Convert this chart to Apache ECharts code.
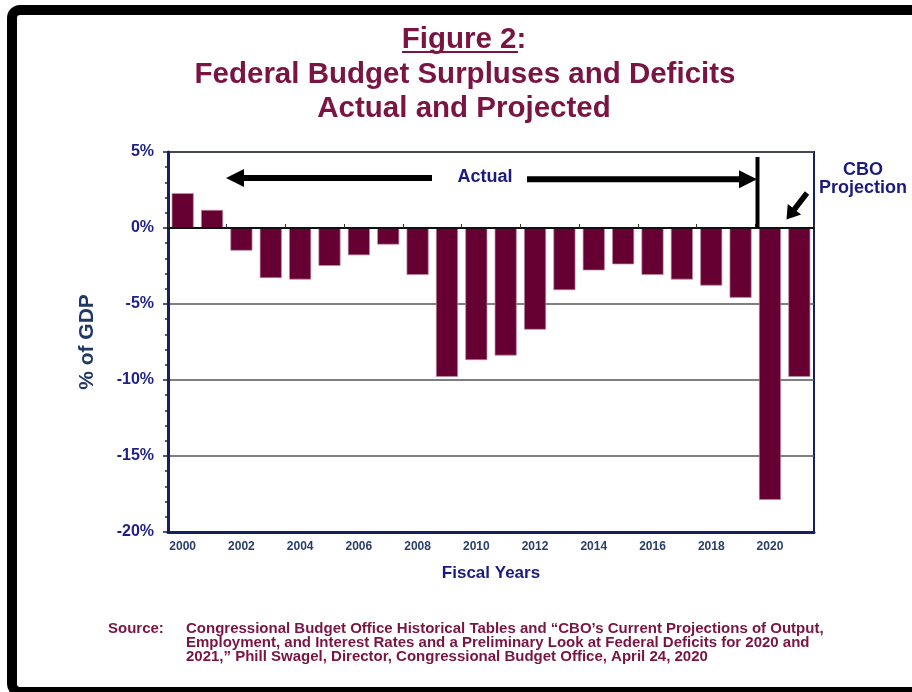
<!DOCTYPE html>
<html>
<head>
<meta charset="utf-8">
<script src="https://cdn.jsdelivr.net/npm/echarts@6/dist/echarts.min.js"></script>
<style>
  html, body { margin: 0; padding: 0; background: #fff; }
  #main { width: 912px; height: 692px; }
</style>
</head>
<body>
<div id="main"></div>
<script>
// Fiscal years shown on the category axis
const years = ['2000', '2001', '2002', '2003', '2004', '2005', '2006', '2007', '2008', '2009', '2010',
               '2011', '2012', '2013', '2014', '2015', '2016', '2017', '2018', '2019', '2020', '2021'];
// Surplus (+) / deficit (-) as a percent of GDP
const balancePct = [2.3, 1.2, -1.5, -3.3, -3.4, -2.5, -1.8, -1.1, -3.1, -9.8, -8.7,
                    -8.4, -6.7, -4.1, -2.8, -2.4, -3.1, -3.4, -3.8, -4.6, -17.9, -9.8];
// Value-axis range and step (percent of GDP)
const yMin = -20, yMax = 5, yStep = 5;

// Title and source lines
const titleLines = ['Figure 2:', 'Federal Budget Surpluses and Deficits', 'Actual and Projected'];
const sourceLines = [
  'Congressional Budget Office Historical Tables and \u201cCBO\u2019s Current Projections of Output,',
  'Employment, and Interest Rates and a Preliminary Look at Federal Deficits for 2020 and',
  '2021,\u201d Phill Swagel, Director, Congressional Budget Office, April 24, 2020'
];

const FONT = '"Liberation Sans", Arial, sans-serif';
const MAROON = '#7a1442';
const BAR = '#660033';
const NAVY = '#1a1a80';
const AXIS_NAVY = '#152060';
const SLATE = '#2a3e6c';

// Block arrow polygon from (x1,y1) to tip (x2,y2)
function arrowPoints(x1, y1, x2, y2, shaftW, headL, headW) {
  const dx = x2 - x1, dy = y2 - y1;
  const len = Math.sqrt(dx * dx + dy * dy);
  const ux = dx / len, uy = dy / len;
  const nx = -uy, ny = ux;
  const bx = x2 - ux * headL, by = y2 - uy * headL;
  const s = shaftW / 2, h = headW / 2;
  return [
    [x1 + nx * s, y1 + ny * s],
    [bx + nx * s, by + ny * s],
    [bx + nx * h, by + ny * h],
    [x2, y2],
    [bx - nx * h, by - ny * h],
    [bx - nx * s, by - ny * s],
    [x1 - nx * s, y1 - ny * s]
  ];
}

const chart = echarts.init(document.getElementById('main'), null, { renderer: 'canvas' });

const titleFont = 'bold 29.5px ' + FONT;
const graphics = [
  // outer frame
  { type: 'rect', z: 100, silent: true,
    shape: { x: 12, y: 10, width: 1000, height: 682, r: 8 },
    style: { fill: 'none', stroke: '#000', lineWidth: 10 } },
  // titles
  { type: 'text', x: 464, y: 39.5, style: { text: titleLines[0], font: titleFont, fill: MAROON, align: 'center', verticalAlign: 'middle' } },
  { type: 'line', shape: { x1: 402, y1: 52, x2: 518, y2: 52 }, style: { stroke: MAROON, lineWidth: 2 } },
  { type: 'text', x: 465, y: 75, style: { text: titleLines[1], font: titleFont, fill: MAROON, align: 'center', verticalAlign: 'middle' } },
  { type: 'text', x: 464, y: 108.5, style: { text: titleLines[2], font: titleFont, fill: MAROON, align: 'center', verticalAlign: 'middle' } },
  // "Actual" span arrows
  { type: 'polygon', z: 10, shape: { points: arrowPoints(432, 178, 226, 178, 6, 18, 18) }, style: { fill: '#000' } },
  { type: 'polygon', z: 10, shape: { points: arrowPoints(527, 179.3, 757, 179.3, 6, 18, 18) }, style: { fill: '#000' } },
  { type: 'text', z: 10, x: 485, y: 177, style: { text: 'Actual', font: 'bold 18px ' + FONT, fill: NAVY, align: 'center', verticalAlign: 'middle' } },
  // divider between actual and projected years
  { type: 'line', z: 10, shape: { x1: 757.5, y1: 157, x2: 757.5, y2: 228 }, style: { stroke: '#000', lineWidth: 4 } },
  // projection label and pointer
  { type: 'text', z: 10, x: 863, y: 179, style: { text: 'CBO\nProjection', font: 'bold 18px ' + FONT, lineHeight: 18, fill: NAVY, align: 'center', verticalAlign: 'middle' } },
  { type: 'polygon', z: 10, shape: { points: arrowPoints(807, 193, 786.5, 219.5, 5.5, 13, 17) }, style: { fill: '#000' } },
  // source note
  { type: 'text', x: 108, y: 629, style: { text: 'Source:', font: 'bold 15px ' + FONT, fill: MAROON, align: 'left', verticalAlign: 'middle' } }
];
sourceLines.forEach(function (line, i) {
  graphics.push({ type: 'text', x: 186, y: 629 + i * 14,
    style: { text: line, font: 'bold 15px ' + FONT, fill: MAROON, align: 'left', verticalAlign: 'middle' } });
});

const option = {
  animation: false,
  backgroundColor: '#fff',
  textStyle: { fontFamily: FONT },
  grid: { left: 168, top: 152, width: 646, height: 380, show: true, borderColor: AXIS_NAVY, borderWidth: 2 },
  xAxis: [
    {
      type: 'category', data: years, position: 'bottom',
      axisLine: { onZero: false, lineStyle: { color: AXIS_NAVY, width: 3 } },
      axisTick: { show: false },
      axisLabel: { interval: 1, color: SLATE, fontFamily: FONT, fontWeight: 'bold', fontSize: 12, margin: 9 },
      name: 'Fiscal Years', nameLocation: 'middle', nameGap: 33,
      nameTextStyle: { color: NAVY, fontFamily: FONT, fontWeight: 'bold', fontSize: 17 }
    },
    {
      type: 'category', data: years, position: 'bottom', z: 5,
      axisLine: { onZero: true, lineStyle: { color: '#111', width: 2 } },
      axisTick: { show: true, inside: true, length: 4, lineStyle: { color: '#333', width: 1 } },
      axisLabel: { show: false }
    }
  ],
  yAxis: {
    type: 'value', min: yMin, max: yMax, interval: yStep,
    axisLine: { show: true, lineStyle: { color: AXIS_NAVY, width: 3 } },
    axisTick: { show: true, length: 5, lineStyle: { color: AXIS_NAVY, width: 1.5 } },
    minorTick: { show: true, splitNumber: 5, length: 3, lineStyle: { color: AXIS_NAVY, width: 1.5 } },
    splitLine: { show: true, lineStyle: { color: '#555', width: 1.5 } },
    axisLabel: { formatter: '{value}%', color: '#1e1e8c', fontFamily: FONT, fontWeight: 'bold', fontSize: 16, margin: 14 },
    name: '% of GDP', nameLocation: 'middle', nameGap: 70, nameRotate: 90,
    nameTextStyle: { color: '#1f3864', fontFamily: FONT, fontWeight: 'bold', fontSize: 21 }
  },
  series: [{
    type: 'bar', data: balancePct, xAxisIndex: 0, yAxisIndex: 0,
    barWidth: '76%',
    itemStyle: { color: BAR, borderColor: 'rgba(190,140,160,0.7)', borderWidth: 1 }
  }],
  graphic: graphics
};

chart.setOption(option);
</script>
</body>
</html>
